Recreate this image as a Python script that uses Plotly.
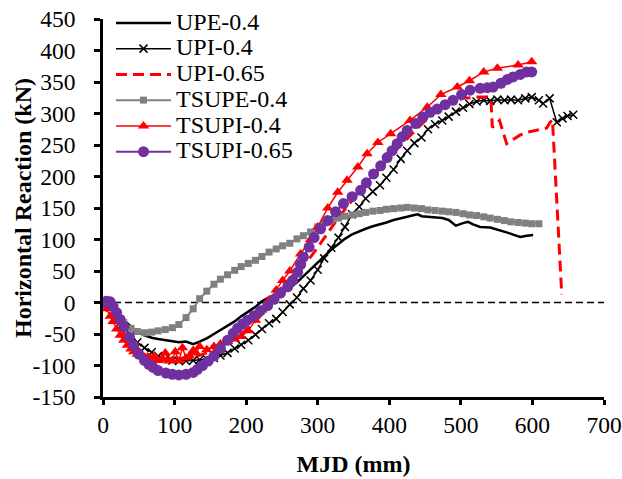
import plotly.graph_objects as go

# ---------------- data ----------------
upe04_x = [0,10,19,29,39,48,58,68,77,87,97,106,116,126,135,145,155,164,174,184,193,203,213,222,232,242,251,261,271,280,290,300,309,319,329,338,348,358,367,377,387,396,406,416,425,435,440,445,454,464,474,483,488,493,503,510,517,527,541,551,565,575,583,592,601]
upe04_y = [0,-5,-15,-28,-38,-46,-52,-56,-58,-60,-61,-63,-62,-66,-62,-57,-50,-44,-38,-30,-22,-14,-7,2,8,12,17,23,32,42,53,63,73,84,93,101,108,113,117,121,124,127,131,133,136,139,140,137,136,134,134,131,126,122,126,128,124,120,119,116,111,107,104,106,107]

upi04_x = [0,10,19,29,39,48,58,68,77,87,97,106,116,126,135,145,155,164,174,184,193,203,213,222,232,242,251,261,271,280,290,300,309,319,329,338,348,358,367,377,387,396,406,416,425,435,445,454,464,474,483,493,503,512,522,532,541,551,561,570,580,590,599,609,615,624,634,642,649,657]
upi04_y = [0,-8,-22,-38,-52,-63,-72,-79,-85,-89,-92,-93,-93,-92,-91,-90,-88,-84,-80,-73,-67,-60,-51,-42,-33,-26,-15,-3,8,22,35,52,70,87,103,120,140,152,165,176,186,198,211,228,241,253,262,275,283,289,295,303,309,315,319,321,320,322,321,322,321,324,326,321,316,324,286,292,296,298]

upi065_x = [0,10,19,29,39,48,58,68,77,87,97,106,116,135,155,174,193,213,232,251,271,290,309,329,348,367,387,406,425,445,464,483,503,522,537,542,544,554,564,573,583,592,600,610,620,624,628,641]
upi065_y = [0,-12,-30,-48,-62,-72,-80,-85,-88,-89,-90,-89,-88,-84,-76,-66,-50,-30,-6,26,50,72,102,135,162,188,213,238,260,283,303,316,324,326,326,322,278,289,252,258,266,270,272,274,277,285,290,12]

tsupe04_x = [0,10,19,29,39,48,58,68,77,87,97,106,116,126,135,145,155,164,174,184,193,203,213,222,232,242,251,261,271,280,290,300,309,319,329,338,348,358,367,377,387,396,406,416,425,435,445,454,464,474,483,493,503,512,522,532,541,551,561,570,580,590,599,609]
tsupe04_y = [0,-8,-20,-32,-41,-46,-48,-47,-45,-43,-40,-35,-24,-10,6,18,29,37,44,51,57,62,67,73,80,85,90,94,101,106,112,120,126,131,134,137,139,141,143,145,146,148,149,150,151,150,149,147,146,145,144,143,141,139,138,136,134,132,130,128,127,126,125,125]

tsupi04_x = [0,5,10,14,19,24,29,34,39,43,48,53,58,63,68,72,77,82,87,92,97,101,106,111,116,121,126,130,135,145,155,164,174,184,193,203,213,222,232,242,251,261,276,290,300,314,328,341,356,369,384,402,429,453,472,495,512,532,551,580,599]
tsupi04_y = [0,-10,-22,-30,-42,-52,-60,-68,-74,-78,-82,-85,-87,-90,-91,-85,-92,-90,-80,-93,-92,-78,-93,-72,-88,-85,-76,-80,-70,-75,-70,-66,-62,-58,-54,-45,-28,-12,4,20,35,50,77,100,120,150,175,194,215,236,254,268,289,310,330,342,352,366,372,377,382]

tsupi065_x = [0,5,10,14,19,24,29,37,43,50,58,64,70,77,88,97,106,116,126,132,139,147,155,164,174,182,188,195,202,211,220,230,239,248,258,265,272,276,280,288,295,304,314,325,336,348,360,368,378,388,397,404,411,418,425,437,447,457,467,478,489,501,513,527,537,545,556,565,573,583,592,599]
tsupi065_y = [0,2,1,-6,-16,-27,-38,-55,-68,-82,-92,-98,-103,-108,-112,-114,-115,-114,-111,-106,-100,-93,-85,-73,-60,-49,-41,-34,-28,-21,-13,-5,5,15,25,35,48,60,72,88,103,117,130,144,157,168,178,190,204,217,230,241,252,263,273,284,294,302,307,314,321,330,337,340,341,342,348,354,358,362,366,366]

zero_x = [0, 700]
zero_y = [0, 0]

x_ticks = [0, 100, 200, 300, 400, 500, 600, 700]
y_ticks = [-150, -100, -50, 0, 50, 100, 150, 200, 250, 300, 350, 400, 450]

FONT = "Liberation Serif, Times New Roman, serif"
def lg(name):
    return '<span style="font-size:24px">' + name + '</span>'

fig = go.Figure()
fig.add_trace(go.Scatter(x=zero_x, y=zero_y, mode="lines", showlegend=False,
                         line=dict(color="black", width=1.5, dash="7px,4px"), hoverinfo="skip"))
fig.add_trace(go.Scatter(x=upe04_x, y=upe04_y, mode="lines", name=lg("UPE-0.4"),
                         line=dict(color="black", width=2.5)))
fig.add_trace(go.Scatter(x=upi04_x, y=upi04_y, mode="lines+markers", name=lg("UPI-0.4"),
                         line=dict(color="black", width=1.5),
                         marker=dict(symbol="x-thin", size=8, line=dict(color="black", width=1.5), color="black")))
fig.add_trace(go.Scatter(x=upi065_x, y=upi065_y, mode="lines", name=lg("UPI-0.65"),
                         line=dict(color="#FF0000", width=3, dash="11px,6px")))
fig.add_trace(go.Scatter(x=tsupe04_x, y=tsupe04_y, mode="lines+markers", name=lg("TSUPE-0.4"),
                         line=dict(color="#808080", width=2),
                         marker=dict(symbol="square", size=7, color="#808080")))
fig.add_trace(go.Scatter(x=tsupi04_x, y=tsupi04_y, mode="lines+markers", name=lg("TSUPI-0.4"),
                         line=dict(color="#FF0000", width=1.5),
                         marker=dict(symbol="triangle-up", size=10, color="#FF0000")))
fig.add_trace(go.Scatter(x=tsupi065_x, y=tsupi065_y, mode="lines+markers", name=lg("TSUPI-0.65"),
                         line=dict(color="#7030A0", width=2),
                         marker=dict(symbol="circle", size=11, color="#7030A0")))

fig.update_layout(
    width=622, height=479,
    margin=dict(l=103, r=18, t=19, b=82, autoexpand=False),
    paper_bgcolor="white", plot_bgcolor="white",
    font=dict(family=FONT, size=23.5, color="black"),
    showlegend=True,
    legend=dict(x=(111 - 103) / 501, y=(397 - 5) / 378,
                xanchor="left", yanchor="top",
                bgcolor="rgba(0,0,0,0)", borderwidth=0,
                font=dict(family=FONT, size=17.5, color="black"),
                itemwidth=55, tracegroupgap=0),
    xaxis=dict(range=[0, 700], tickvals=x_ticks, ticktext=[str(v) for v in x_ticks],
               automargin=False, ticklabeloverflow="allow",
               showgrid=False, zeroline=False, showline=True, linecolor="black", linewidth=2.5,
               ticks="outside", ticklen=5, tickwidth=2.5, tickcolor="black",
               tickfont=dict(family=FONT, size=23.5), ticklabelstandoff=0,
               title=dict(text="<b>MJD (mm)</b>", font=dict(family=FONT, size=24), standoff=19)),
    yaxis=dict(range=[-150, 450], tickvals=y_ticks, ticktext=[str(v) for v in y_ticks],
               automargin=False, ticklabeloverflow="allow",
               showgrid=False, zeroline=False, showline=True, linecolor="black", linewidth=2.5,
               ticks="outside", ticklen=6, tickwidth=2.5, tickcolor="black",
               tickfont=dict(family=FONT, size=23.5), ticklabelstandoff=14),
    annotations=[dict(text="<b>Horizontal Reaction (kN)</b>", textangle=-90,
                      xref="paper", yref="paper", x=(23 - 103) / 501, y=0.5,
                      xanchor="center", yanchor="middle", showarrow=False,
                      font=dict(family=FONT, size=24, color="black"))],
)

# remove the default page margin so the 622x479 figure fills the window exactly
fig.write_html("out.html",
               config={"displayModeBar": False},
               post_script="document.body.style.margin='0';document.body.style.overflow='hidden';")
